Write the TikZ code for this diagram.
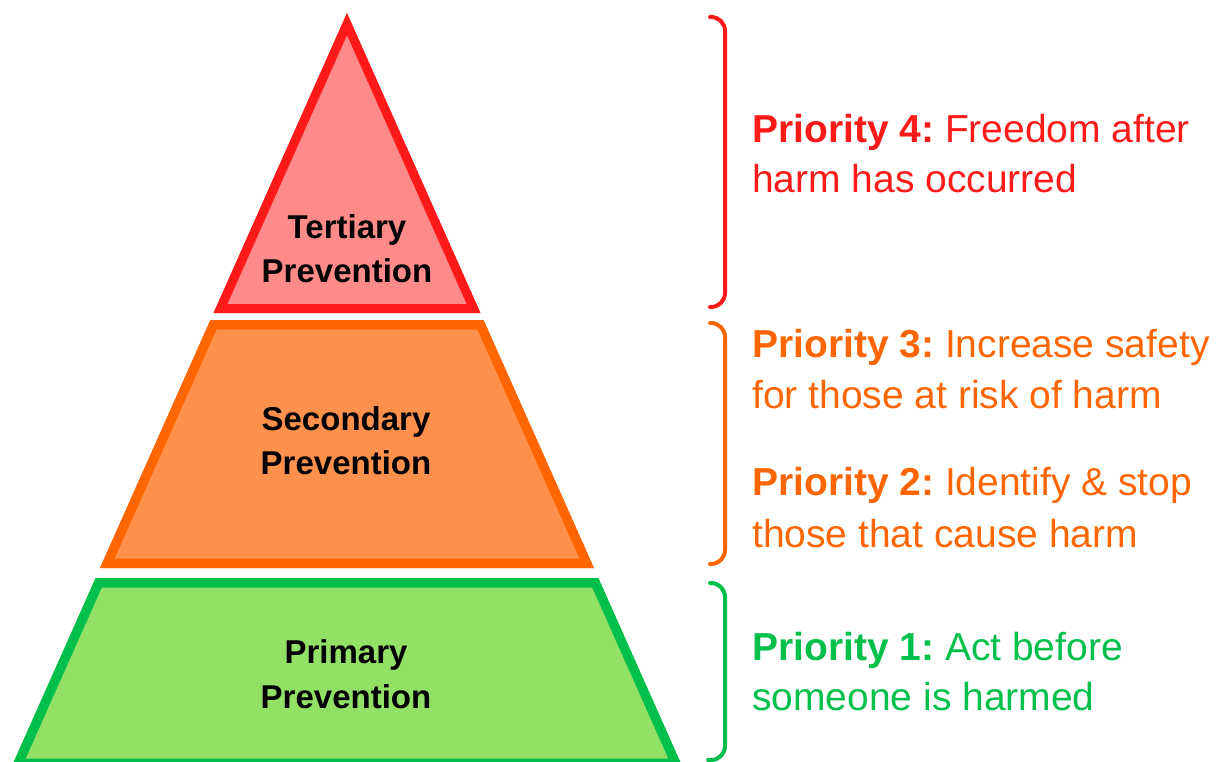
\documentclass[tikz,border=0pt]{standalone}
\usepackage{fontspec}
\setmainfont{Liberation Sans}
\frenchspacing
\begin{document}
\definecolor{tierRedLine}{HTML}{FF1A1A}
\definecolor{tierRedFill}{HTML}{FF8A8A}
\definecolor{tierOrangeLine}{HTML}{FF6600}
\definecolor{tierOrangeFill}{HTML}{FF914D}
\definecolor{tierGreenLine}{HTML}{00C04B}
\definecolor{tierGreenFill}{HTML}{93E066}
\begin{tikzpicture}[x=1pt,y=-1pt,
  tierlabel/.style={anchor=base,inner sep=0pt,font=\fontsize{33}{44}\selectfont\bfseries,text=black},
  prio/.style={anchor=base west,inner sep=0pt,font=\fontsize{39}{50}\selectfont},
  bracket/.style={line width=4pt,line cap=round,rounded corners=14pt}]
\useasboundingbox (0,0) rectangle (1217,762);

% tiers: filled outline with the stroke kept inside each shape
\begin{scope}
  \clip (347,13) -- (480.5,313) -- (213.5,313) -- cycle;
  \fill[tierRedFill] (347,13) -- (480.5,313) -- (213.5,313) -- cycle;
  \draw[tierRedLine,line width=18pt] (347,13) -- (480.5,313) -- (213.5,313) -- cycle;
\end{scope}
\begin{scope}
  \clip (210.4,320) -- (483.6,320) -- (594,568) -- (100,568) -- cycle;
  \fill[tierOrangeFill] (210.4,320) -- (483.6,320) -- (594,568) -- (100,568) -- cycle;
  \draw[tierOrangeLine,line width=19pt] (210.4,320) -- (483.6,320) -- (594,568) -- (100,568) -- cycle;
\end{scope}
\begin{scope}
  \clip (95.6,578) -- (598.4,578) -- (683,768) -- (11,768) -- cycle;
  \fill[tierGreenFill] (95.6,578) -- (598.4,578) -- (683,768) -- (11,768) -- cycle;
  \draw[tierGreenLine,line width=19pt] (95.6,578) -- (598.4,578) -- (683,768) -- (11,768) -- cycle;
\end{scope}

% tier labels
\node[tierlabel] (t1) at (347,238) {Tertiary};
\node[tierlabel] (t2) at (347,282) {Prevention};
\node[tierlabel] (s1) at (346,430) {Secondary};
\node[tierlabel] (s2) at (346,474) {Prevention};
\node[tierlabel] (p1) at (346,663) {Primary};
\node[tierlabel] (p2) at (346,708) {Prevention};

% brackets
\draw[bracket,tierRedLine] (710,17) -- (725,17) -- (725,307) -- (710,307);
\draw[bracket,tierOrangeLine] (710,323) -- (725,323) -- (725,564) -- (710,564);
\draw[bracket,tierGreenLine] (710,583) -- (725,583) -- (725,760) -- (708,760);

% priorities
\node[prio,text=tierRedLine] (r4a) at (752,143) {\textbf{Priority 4:} Freedom after};
\node[prio,text=tierRedLine] (r4b) at (752,193) {harm has occurred};
\node[prio,text=tierOrangeLine] (r3a) at (752,357) {\textbf{Priority 3:} Increase safety};
\node[prio,text=tierOrangeLine] (r3b) at (752,408) {for those at risk of harm};
\node[prio,text=tierOrangeLine] (r2a) at (752,495) {\textbf{Priority 2:} Identify \& stop};
\node[prio,text=tierOrangeLine] (r2b) at (752,547) {those that cause harm};
\node[prio,text=tierGreenLine] (r1a) at (752,660) {\textbf{Priority 1:} Act before};
\node[prio,text=tierGreenLine] (r1b) at (752,710) {someone is harmed};
\end{tikzpicture}
\end{document}
